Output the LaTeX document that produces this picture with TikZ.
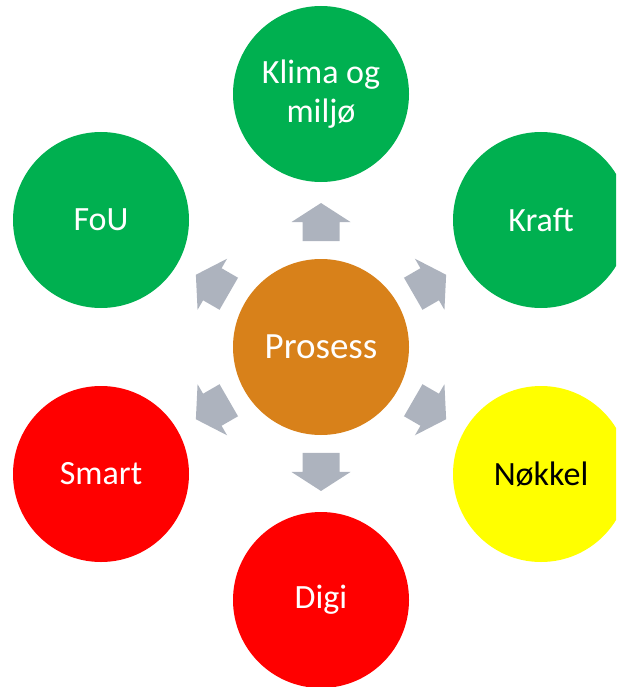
\documentclass[tikz,border=0pt]{standalone}
\usepackage{fontspec}
\setmainfont{Carlito}
\usetikzlibrary{calc}
\definecolor{groenn}{HTML}{00B050}
\definecolor{oransje}{HTML}{D8811A}
\definecolor{roed}{HTML}{FF0000}
\definecolor{gul}{HTML}{FFFF00}
\definecolor{pilgraa}{HTML}{ADB3BE}
\begin{document}
\begin{tikzpicture}[x=1pt, y=-1pt, line join = round,
	sirkel/.style={circle, minimum size=176pt, inner sep=0pt, text=white, align=center, font=\fontsize{34}{39}\selectfont},
	pil/.style={fill=pilgraa}]
	\clip (0,0) rectangle (616,687);
	\node[sirkel, fill=oransje, font=\fontsize{37}{44}\selectfont] (prosess) at (321,347) {Prosess};
	\node[sirkel, fill=groenn] (klima) at (321,94) {Klima og\\miljø};
	\node[sirkel, fill=groenn] (kraft) at (541,220) {Kraft};
	\node[sirkel, fill=gul, text=black] (nokkel) at (541,474) {Nøkkel};
	\node[sirkel, fill=roed] (digi) at (321,600) {Digi};
	\node[sirkel, fill=roed] (smart) at (101,474) {Smart};
	\node[sirkel, fill=groenn] (fou) at (101,220) {FoU};
	% blokkpiler ut fra midten
	\foreach \n/\v in {klima/90, kraft/30, nokkel/-30, digi/-90, smart/-150, fou/150}
		\fill[pil, shift={($(prosess)!0.494!(\n)$)}, rotate=\v]
			(-19,-18.5) -- (0,-18.5) -- (0,-29.5) -- (19,0) -- (0,29.5) -- (0,18.5) -- (-19,18.5) -- cycle;
\end{tikzpicture}
\end{document}
